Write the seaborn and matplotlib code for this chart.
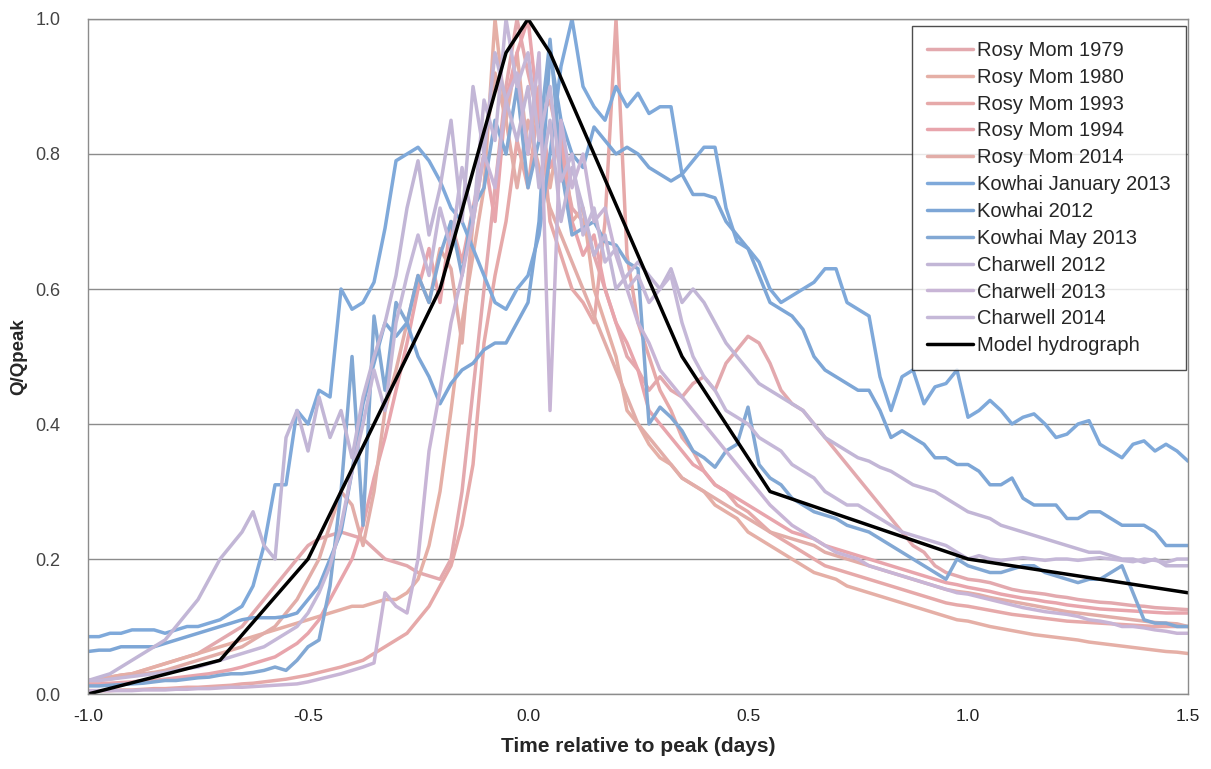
import numpy as np
import pandas as pd
import seaborn as sns
import matplotlib
matplotlib.use("Agg")
import matplotlib.pyplot as plt

# time axis of the observed hydrographs (days relative to peak)
time_days = np.round(np.linspace(-1.0, 1.5, 101), 3)

rosy_1979 = [.02, .022, .025, .028, .03, .035, .04, .045, .05, .055,
             .06, .07, .08, .09, .10, .12, .14, .16, .18, .20,
             .22, .23, .235, .24, .235, .23, .215, .20, .195, .19,
             .18, .175, .17, .20, .30, .45, .60, .75, .90, 1.0,
             .92, .85, .88, .80, .72, .70, .65, .60, .55, .50,
             .48, .45, .47, .45, .44, .46, .47, .45, .49, .51,
             .53, .52, .49, .45, .43, .42, .40, .38, .36, .34,
             .32, .30, .28, .26, .24, .22, .21, .19, .18, .175,
             .17, .168, .165, .16, .155, .152, .15, .148, .145, .143,
             .14, .138, .136, .135, .133, .131, .13, .128, .127, .126,
             .125]
rosy_1980 = [.02, .022, .025, .028, .03, .035, .04, .045, .05, .055,
             .06, .065, .07, .075, .08, .085, .09, .095, .10, .105,
             .11, .115, .12, .125, .13, .13, .135, .14, .14, .15,
             .17, .22, .30, .42, .55, .65, .75, 1.0, .85, .95,
             .80, .90, .75, .85, .70, .72, .60, .55, .50, .42,
             .40, .37, .35, .34, .32, .31, .30, .28, .27, .26,
             .24, .23, .22, .21, .20, .19, .18, .175, .17, .16,
             .155, .15, .145, .14, .135, .13, .125, .12, .115, .11,
             .108, .104, .10, .097, .094, .091, .088, .086, .084, .082,
             .08, .077, .075, .073, .071, .069, .067, .065, .063, .062,
             .06]
rosy_1993 = [.005, .005, .005, .006, .006, .007, .008, .008, .009, .01,
             .01, .011, .012, .013, .015, .016, .018, .02, .022, .025,
             .028, .032, .036, .04, .045, .05, .06, .07, .08, .09,
             .11, .13, .16, .19, .25, .34, .52, .62, .70, .82,
             .75, .88, .70, .65, .60, .58, .55, .70, 1.0, .65,
             .55, .50, .45, .42, .38, .36, .33, .31, .30, .28,
             .27, .255, .24, .23, .22, .21, .20, .19, .185, .18,
             .175, .17, .165, .16, .155, .15, .145, .14, .135, .132,
             .13, .127, .124, .121, .118, .116, .114, .112, .11, .108,
             .107, .106, .105, .104, .103, .102, .101, .10, .10, .10,
             .10]
rosy_1994 = [.015, .015, .016, .017, .018, .02, .02, .022, .024, .026,
             .028, .03, .033, .036, .04, .045, .05, .055, .065, .075,
             .09, .11, .14, .17, .20, .25, .32, .38, .45, .52,
             .60, .66, .58, .70, .64, .72, .80, .70, .88, .95,
             1.0, .85, .78, .82, .70, .65, .68, .60, .55, .52,
             .48, .42, .40, .38, .36, .34, .33, .31, .30, .29,
             .28, .27, .26, .25, .24, .235, .23, .22, .215, .21,
             .205, .20, .195, .19, .185, .18, .175, .17, .165, .162,
             .158, .155, .152, .148, .145, .142, .14, .137, .135, .132,
             .13, .128, .126, .125, .124, .123, .122, .121, .12, .12,
             .12]
rosy_2014 = [.02, .02, .022, .025, .028, .03, .032, .035, .04, .045,
             .05, .055, .06, .065, .07, .08, .09, .10, .12, .14,
             .17, .20, .25, .30, .28, .22, .30, .42, .48, .55,
             .62, .58, .66, .63, .52, .70, .80, .92, .85, .75,
             .85, .78, .72, .68, .64, .60, .56, .52, .48, .44,
             .40, .38, .36, .34, .32, .31, .30, .29, .28, .27,
             .26, .25, .24, .235, .23, .225, .22, .21, .205, .20,
             .195, .19, .185, .18, .175, .17, .165, .16, .155, .152,
             .15, .147, .143, .14, .137, .134, .131, .128, .125, .122,
             .12, .118, .116, .114, .112, .11, .108, .106, .105, .104,
             .10]
kowhai_jan2013 = [.085, .085, .09, .09, .095, .095, .095, .09, .095, .10,
                  .10, .105, .11, .12, .13, .16, .22, .31, .31, .42,
                  .40, .45, .44, .60, .57, .58, .61, .69, .79, .80,
                  .81, .79, .76, .72, .70, .66, .62, .58, .57, .60,
                  .62, .68, .80, .93, 1.0, .90, .87, .85, .90, .87,
                  .89, .86, .87, .87, .77, .79, .81, .81, .72, .67,
                  .66, .64, .60, .58, .59, .60, .61, .63, .63, .58,
                  .57, .56, .47, .42, .47, .48, .43, .455, .46, .48,
                  .41, .42, .435, .42, .40, .41, .415, .40, .38, .385,
                  .40, .405, .37, .36, .35, .37, .375, .36, .37, .36,
                  .345]
kowhai_2012 = [.063, .065, .065, .07, .07, .07, .07, .075, .08, .085,
               .09, .095, .10, .105, .11, .113, .113, .113, .115, .12,
               .14, .16, .20, .24, .33, .43, .49, .55, .53, .55,
               .50, .47, .43, .46, .48, .49, .51, .52, .52, .55,
               .58, .70, .95, .85, .80, .78, .84, .82, .80, .81,
               .80, .78, .77, .76, .77, .74, .74, .735, .70, .68,
               .66, .62, .58, .57, .56, .54, .50, .48, .47, .46,
               .45, .45, .42, .38, .39, .38, .37, .35, .35, .34,
               .34, .33, .31, .31, .32, .29, .28, .28, .28, .26,
               .26, .27, .27, .26, .25, .25, .25, .24, .22, .22,
               .22]
kowhai_may2013 = [.012, .012, .013, .014, .015, .016, .018, .02, .02, .022,
                  .024, .025, .028, .03, .03, .032, .035, .04, .035, .05,
                  .07, .08, .16, .30, .50, .25, .56, .45, .58, .55,
                  .62, .58, .65, .70, .62, .72, .75, .85, .80, .90,
                  .75, .82, .97, .78, .68, .69, .70, .67, .665, .64,
                  .63, .40, .425, .41, .39, .36, .35, .336, .36, .37,
                  .425, .34, .32, .31, .29, .28, .27, .265, .26, .25,
                  .245, .24, .23, .22, .21, .20, .19, .18, .17, .20,
                  .19, .185, .18, .18, .185, .19, .19, .18, .175, .17,
                  .165, .17, .17, .18, .19, .15, .11, .105, .105, .10,
                  .10]
charwell_2012 = [.02, .025, .03, .04, .05, .06, .07, .08, .10, .12,
                 .14, .17, .20, .22, .24, .27, .22, .20, .38, .42,
                 .36, .44, .38, .42, .35, .44, .50, .55, .62, .72,
                 .79, .68, .75, .85, .70, .90, .80, .95, .88, .82,
                 .90, .75, .85, .70, .78, .72, .65, .68, .60, .62,
                 .64, .62, .60, .63, .58, .60, .58, .55, .52, .50,
                 .48, .46, .45, .44, .43, .42, .40, .38, .37, .36,
                 .35, .345, .336, .33, .32, .31, .305, .30, .29, .28,
                 .27, .265, .26, .25, .245, .24, .235, .23, .225, .22,
                 .215, .21, .21, .205, .20, .20, .195, .20, .19, .19,
                 .19]
charwell_2013 = [.005, .005, .005, .005, .005, .006, .006, .006, .007, .007,
                 .008, .008, .009, .01, .01, .011, .012, .013, .014, .015,
                 .018, .022, .026, .03, .035, .04, .046, .15, .13, .12,
                 .20, .36, .45, .55, .62, .70, .80, .75, .88, .92,
                 .80, .95, .42, .85, .75, .80, .70, .72, .65, .60,
                 .55, .52, .48, .46, .44, .42, .40, .38, .36, .34,
                 .32, .30, .28, .265, .25, .24, .23, .22, .21, .205,
                 .20, .19, .185, .18, .175, .17, .165, .16, .155, .15,
                 .148, .144, .14, .136, .132, .128, .125, .122, .12, .118,
                 .115, .11, .108, .105, .10, .10, .098, .095, .093, .09,
                 .09]
charwell_2014 = [.02, .02, .022, .024, .026, .028, .03, .032, .035, .038,
                 .04, .045, .05, .055, .06, .065, .07, .08, .09, .10,
                 .12, .15, .19, .25, .33, .40, .48, .42, .55, .62,
                 .68, .62, .72, .66, .78, .70, .88, .82, 1.0, .90,
                 .95, .82, .90, .76, .80, .68, .72, .64, .66, .60,
                 .62, .58, .60, .62, .55, .50, .47, .45, .42, .41,
                 .40, .38, .37, .36, .34, .33, .32, .30, .29, .28,
                 .28, .27, .26, .25, .24, .235, .23, .225, .22, .21,
                 .20, .205, .20, .198, .20, .202, .20, .198, .20, .20,
                 .198, .20, .202, .20, .198, .196, .20, .198, .195, .20,
                 .20]

model_time = [-1.0, -0.7, -0.5, -0.2, -0.05, 0.0, 0.05, 0.35, 0.55, 1.0, 1.5]
model_q = [0.0, 0.05, 0.2, 0.6, 0.95, 1.0, 0.95, 0.5, 0.3, 0.2, 0.15]

series_names = ["Rosy Mom 1979", "Rosy Mom 1980", "Rosy Mom 1993", "Rosy Mom 1994",
                "Rosy Mom 2014", "Kowhai January 2013", "Kowhai 2012", "Kowhai May 2013",
                "Charwell 2012", "Charwell 2013", "Charwell 2014"]
series_values = [rosy_1979, rosy_1980, rosy_1993, rosy_1994, rosy_2014,
                 kowhai_jan2013, kowhai_2012, kowhai_may2013,
                 charwell_2012, charwell_2013, charwell_2014]
series_colors = ["#E3A9AE", "#E5AFA6", "#E6A9A9", "#E8A5AC", "#E2ADA8",
                 "#7FA9DA", "#7DA6D6", "#82A8D4",
                 "#C2B6D6", "#C8B5D6", "#C5B8D8"]

frames = [pd.DataFrame({"t": time_days, "q": vals, "series": name})
          for name, vals in zip(series_names, series_values)]
frames.append(pd.DataFrame({"t": model_time, "q": model_q, "series": "Model hydrograph"}))
df = pd.concat(frames, ignore_index=True)

order = series_names + ["Model hydrograph"]
palette = dict(zip(order, series_colors + ["black"]))

sns.set_theme(style="white")
plt.rcParams["font.family"] = ["Liberation Sans", "DejaVu Sans"]

fig = plt.figure(figsize=(12.11, 7.69), dpi=100)
ax = fig.add_axes([0.0727, 0.0975, 0.9083, 0.8778])

sns.lineplot(data=df, x="t", y="q", hue="series", hue_order=order, palette=palette,
             estimator=None, linewidth=2.5, ax=ax)

ax.set_xlim(-1.0, 1.5)
ax.set_ylim(0.0, 1.0)
ax.set_xticks([-1.0, -0.5, 0.0, 0.5, 1.0, 1.5])
ax.set_yticks([0.0, 0.2, 0.4, 0.6, 0.8, 1.0])
ax.set_xticklabels(["-1.0", "-0.5", "0.0", "0.5", "1.0", "1.5"], fontsize=12.5, color="#222222")
ax.set_yticklabels(["0.0", "0.2", "0.4", "0.6", "0.8", "1.0"], fontsize=13, color="#444444")
ax.yaxis.grid(True, color="#8c8c8c", linewidth=1)
ax.set_axisbelow(True)
ax.tick_params(axis="x", direction="in", length=5, color="#8c8c8c", pad=11)
ax.tick_params(axis="y", length=0, pad=20)
for side in ["left", "bottom", "right", "top"]:
    ax.spines[side].set_color("#8c8c8c")
    ax.spines[side].set_linewidth(1)

ax.set_xlabel("Time relative to peak (days)", fontsize=15, fontweight="bold", labelpad=9)
ax.set_ylabel("Q/Qpeak", fontsize=13.5, fontweight="bold", labelpad=6)

leg = ax.legend(loc="upper right", bbox_to_anchor=(0.998, 0.99), borderaxespad=0,
                fontsize=14.5, frameon=True, fancybox=False, handlelength=2.3,
                handletextpad=0.2, labelspacing=0.39, borderpad=0.75)
leg.get_frame().set_edgecolor("#222222")
leg.get_frame().set_linewidth(1)
for line in leg.get_lines():
    line.set_linewidth(2.5)

fig.savefig("out.png", dpi=100)
